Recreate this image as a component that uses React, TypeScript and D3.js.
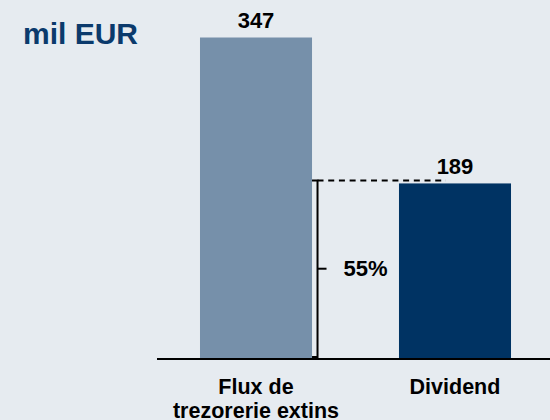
import React, { useRef, useEffect } from "react";
import * as d3 from "d3";

const categories = ["Flux de\ntrezorerie extins", "Dividend"];
const values = [347, 189];
const barColors = ["#7690aa", "#003363"];
const unitLabel = "mil EUR";
const ratioLabel = "55%";

const App: React.FC = () => {
  const svgRef = useRef<SVGSVGElement | null>(null);

  useEffect(() => {
    const svg = d3.select(svgRef.current);
    const width = 550;
    const height = 420;
    const font = "'Liberation Sans', Arial, sans-serif";

    svg.selectAll("*").remove();

    svg.append("rect").attr("width", width).attr("height", height).attr("fill", "#e6ebf0");

    const x = d3
      .scaleBand()
      .domain(categories)
      .range([159, 552])
      .paddingInner(0.437)
      .paddingOuter(0.206);

    const y = d3.scaleLinear().domain([0, 347]).range([358, 37.5]);

    // bars
    svg
      .append("g")
      .selectAll("rect")
      .data(values)
      .join("rect")
      .attr("x", (_, i) => x(categories[i]) ?? 0)
      .attr("y", (d) => y(d))
      .attr("width", x.bandwidth())
      .attr("height", (d) => y(0) - y(d))
      .attr("fill", (_, i) => barColors[i]);

    // value labels
    svg
      .append("g")
      .selectAll("text")
      .data(values)
      .join("text")
      .attr("x", (_, i) => (x(categories[i]) ?? 0) + x.bandwidth() / 2)
      .attr("y", (d) => y(d) - 9.5)
      .attr("text-anchor", "middle")
      .attr("font-family", font)
      .attr("font-weight", "bold")
      .attr("font-size", 22)
      .attr("fill", "#000")
      .text((d) => d);

    // baseline
    svg
      .append("line")
      .attr("x1", 157)
      .attr("x2", width)
      .attr("y1", y(0) + 1)
      .attr("y2", y(0) + 1)
      .attr("stroke", "#000")
      .attr("stroke-width", 2);

    // dashed reference + bracket
    const bx0 = (x(categories[0]) ?? 0) + x.bandwidth();
    const bx = bx0 + 5.5;
    const top = y(values[1]) - 3;
    const bottom = y(0) - 1;
    const bar2Center = (x(categories[1]) ?? 0) + x.bandwidth() / 2;

    svg
      .append("line")
      .attr("x1", bx)
      .attr("x2", bar2Center - 9)
      .attr("y1", top)
      .attr("y2", top)
      .attr("stroke", "#000")
      .attr("stroke-width", 2)
      .attr("stroke-dasharray", "6,4.7");

    svg
      .append("path")
      .attr("d", `M${bx0},${top}H${bx}V${bottom}H${bx0}`)
      .attr("fill", "none")
      .attr("stroke", "#000")
      .attr("stroke-width", 2);

    const mid = (top + bottom) / 2;
    svg
      .append("line")
      .attr("x1", bx)
      .attr("x2", bx + 9)
      .attr("y1", mid)
      .attr("y2", mid)
      .attr("stroke", "#000")
      .attr("stroke-width", 2);

    svg
      .append("text")
      .attr("x", bx + 26)
      .attr("y", mid + 7.5)
      .attr("font-family", font)
      .attr("font-weight", "bold")
      .attr("font-size", 22)
      .attr("fill", "#000")
      .text(ratioLabel);

    // category labels
    const catG = svg.append("g");
    categories.forEach((c, i) => {
      const t = catG
        .append("text")
        .attr("x", (x(c) ?? 0) + x.bandwidth() / 2)
        .attr("y", 393.5)
        .attr("text-anchor", "middle")
        .attr("font-family", font)
        .attr("font-weight", "bold")
        .attr("font-size", 21.5)
        .attr("fill", "#000");
      c.split("\n").forEach((line, j) => {
        t.append("tspan")
          .attr("x", (x(c) ?? 0) + x.bandwidth() / 2)
          .attr("dy", j === 0 ? 0 : 24)
          .text(line);
      });
    });

    // unit title
    svg
      .append("text")
      .attr("x", 23)
      .attr("y", 43.5)
      .attr("font-family", font)
      .attr("font-weight", "bold")
      .attr("font-size", 30)
      .attr("fill", "#0b3a6c")
      .text(unitLabel);
  }, []);

  return (
    <div style={{ position: "absolute", left: 0, top: 0 }}>
      <svg ref={svgRef} width="550" height="420" style={{ display: "block" }} />
    </div>
  );
};

export default App;
